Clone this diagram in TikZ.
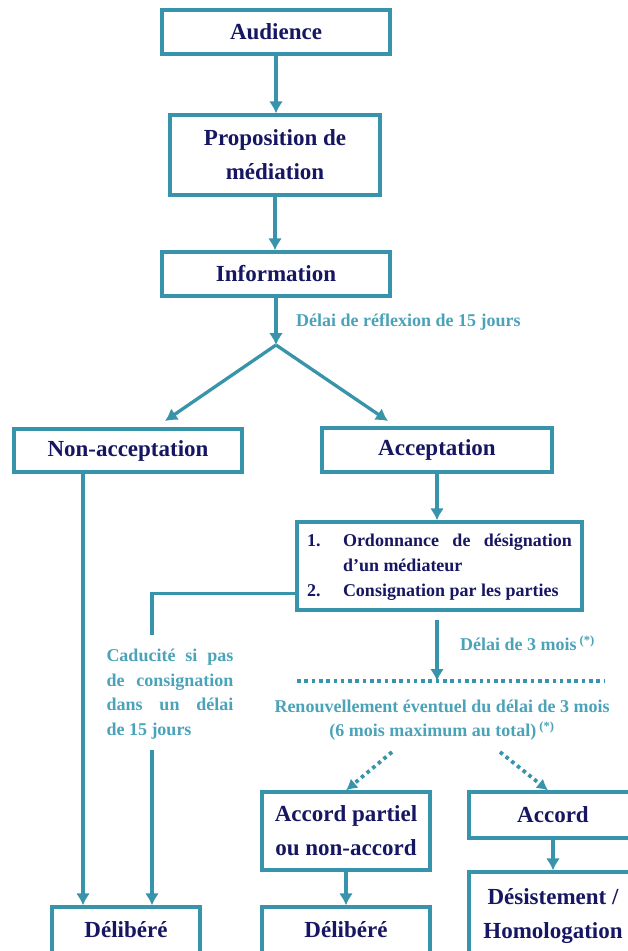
\documentclass[tikz,border=0pt]{standalone}
\usepackage{fontspec}
\setmainfont{Liberation Serif}
\usetikzlibrary{arrows.meta}

\definecolor{boxteal}{RGB}{56,148,170}
\definecolor{labelteal}{RGB}{74,163,184}
\definecolor{textnavy}{RGB}{22,22,98}

\tikzset{
  stepbox/.style={draw=boxteal, line width=3.3pt, fill=white, text=textnavy, inner sep=0pt, align=center, font=\bfseries\fontsize{23}{34}\selectfont},
  link/.style={draw=boxteal, line width=3.3pt, -{Latex[length=12pt,width=14pt]}},
  plainlink/.style={draw=boxteal, line width=3.3pt},
  dotlink/.style={draw=boxteal, line width=3.8pt, dash pattern=on 3.6pt off 3.7pt},
  note/.style={text=labelteal, inner sep=0pt, font=\bfseries\fontsize{18}{24.5}\selectfont},
}

\begin{document}
\begin{tikzpicture}[x=1pt,y=-1pt]
%set diagram frame: 628 x 951
\useasboundingbox (0,0) rectangle (628,951);
\clip (0,0) rectangle (628,951);

% Boxes
\node[stepbox, minimum width=228pt, minimum height=44pt] (aud) at (276,32) {Audience};
\node[stepbox, minimum width=210pt, minimum height=80pt] (prop) at (275,155) {Proposition de\\médiation};
\node[stepbox, minimum width=228pt, minimum height=44pt] (info) at (276,274) {Information};
\node[stepbox, minimum width=228pt, minimum height=43pt] (nonacc) at (128,450.5) {Non-acceptation};
\node[stepbox, minimum width=230pt, minimum height=44pt] (acc) at (437,450) {Acceptation};
\node[stepbox, minimum width=285pt, minimum height=88pt, font=\bfseries\fontsize{18}{25}\selectfont] (ord) at (439.5,566)
  {\begin{tabular}{@{}p{36pt}@{}p{229pt}@{}}
   1. & Ordonnance de désignation d'un médiateur\\
   2. & Consignation par les parties
   \end{tabular}};
\node[stepbox, minimum width=168pt, minimum height=78pt] (accp) at (346,831) {Accord partiel\\ou non-accord};
\node[stepbox, minimum width=168pt, minimum height=46pt] (accord) at (553,815) {Accord};
\node[stepbox, minimum width=168pt, minimum height=88pt] (desist) at (553,916) {Désistement /\\Homologation};
\node[stepbox, minimum width=148pt, minimum height=46pt] (delib1) at (126,930) {Délibéré};
\node[stepbox, minimum width=168pt, minimum height=46pt] (delib2) at (346,930) {Délibéré};

% Free ends
\coordinate (fork) at (276,345);
\coordinate (tipL) at (165,421);
\coordinate (tipR) at (388,421);
\coordinate (nacol) at (83,472);
\coordinate (cadtop) at (152,635);
\coordinate (cadbot) at (152,750);
\coordinate (d3) at (437,620);
\coordinate (dotL) at (297,681);
\coordinate (dotR) at (605,681);
\coordinate (fromL) at (392,752);
\coordinate (fromR) at (500,752);

% Connectors
\draw[link] (aud.south) -- (aud.south |- prop.north);
\draw[link] (prop.south) -- (prop.south |- info.north);
\draw[link] (info.south) -- (fork);
\draw[link] (fork) -- (tipL);
\draw[link] (fork) -- (tipR);
\draw[link] (acc.south) -- (acc.south |- ord.north);
\draw[link] (nonacc.south -| nacol) -- (nacol |- delib1.north);
\draw[plainlink] ([yshift=18pt]ord.south west) -| (cadtop);
\draw[link] (cadbot) -- (cadbot |- delib1.north);
\draw[link] (d3) -- (d3 |- dotL);
\draw[dotlink] (dotL) -- (dotR);
\draw[dotlink, -{Latex[length=11pt,width=12pt]}] (fromL) -- (accp.north);
\draw[dotlink, -{Latex[length=11pt,width=12pt]}] (fromR) -- ([xshift=-5pt]accord.north);
\draw[link] (accp) -- (delib2);
\draw[link] (accord) -- (desist);

% Text Node
\node[note, anchor=west] (lbl15) at (296,322) {Délai de réflexion de 15 jours};
% Text Node
\node[note, anchor=west] (lbl3) at (460,643) {Délai de 3 mois\,\textsuperscript{(*)}};
% Text Node
\node[note, align=center] (renouv) at (442,720) {Renouvellement éventuel du délai de 3 mois\\(6 mois maximum au total)\,\textsuperscript{(*)}};
% Text Node
\node[note, text width=127pt, align=justify] (cadu) at (170,694) {Caducité si pas\linebreak de consignation\linebreak dans un délai\linebreak de 15 jours};

\end{tikzpicture}
\end{document}
